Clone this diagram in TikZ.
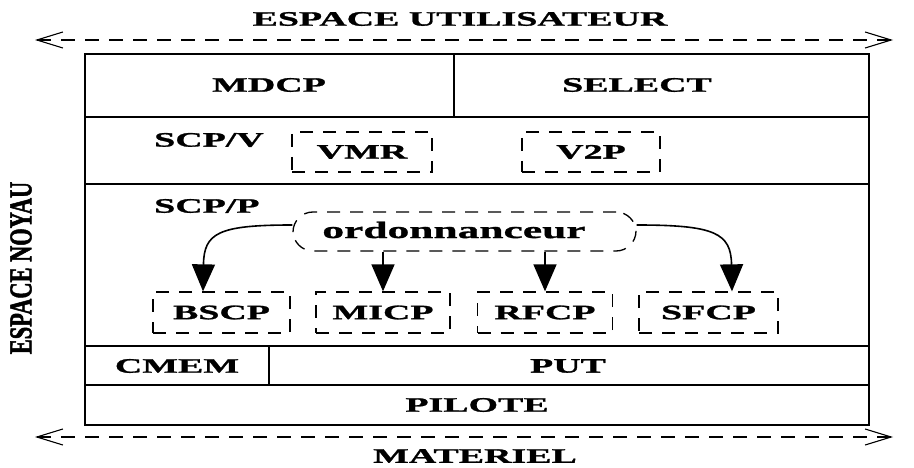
\documentclass[tikz,border=0pt]{standalone}
\usepackage{fontspec}
\setmainfont{Liberation Serif}
\newfontfamily\widefont[FakeStretch=1.85,BoldFeatures={FakeBold=1.3}]{Liberation Serif}
\newfontfamily\narrowfont[FakeStretch=0.7,BoldFeatures={FakeBold=1.5}]{Liberation Serif}
\usetikzlibrary{arrows.meta}
\begin{document}
\begin{tikzpicture}[x=1pt,y=-1pt,
  lab/.style={font=\widefont\bfseries\fontsize{20.5}{20.5}\selectfont, inner sep=0pt},
  solidbox/.style={draw, line width=1.7pt},
  dbox/.style={draw, dashed, line width=1.3pt, dash pattern=on 13pt off 10pt},
  span/.style={dashed, line width=1.2pt, dash pattern=on 14pt off 10pt, {Straight Barb[length=26pt,width=16pt,line width=1.1pt]}-{Straight Barb[length=26pt,width=16pt,line width=1.1pt]}},
  tri/.style={line width=1.6pt, -{Triangle[length=27pt,width=23pt]}}
]
\useasboundingbox (0,0) rectangle (914,468);

% outer rows
\draw[solidbox] (85,54) rectangle (869,425);
\draw[solidbox] (85,117) -- (869,117);
\draw[solidbox] (85,184) -- (869,184);
\draw[solidbox] (85,346) -- (869,346);
\draw[solidbox] (85,385) -- (869,385);
\draw[solidbox] (454,54) -- (454,117);
\draw[solidbox] (269,346) -- (269,385);

% labels in rows
\node[lab] (mdcp) at (269,85) {MDCP};
\node[lab] (select) at (637,85) {SELECT};
\node[lab, anchor=west] (scpv) at (154,140) {SCP/V};
\node[lab, anchor=west] (scpp) at (154,206) {SCP/P};
\node[lab] (cmem) at (177,366) {CMEM};
\node[lab] (put) at (568,366) {PUT};
\node[lab] (pilote) at (477,405) {PILOTE};

% dashed boxes
\node[dbox, minimum width=140pt, minimum height=40pt, inner sep=0pt] (vmr) at (362,152) {};
\node[lab] at (vmr) {VMR};
\node[dbox, minimum width=138pt, minimum height=40pt, inner sep=0pt] (v2p) at (591,152) {};
\node[lab] at (v2p) {V2P};

\node[dbox, rounded corners=20pt, minimum width=343pt, minimum height=39pt, inner sep=0pt] (ord) at (464.5,231.5) {};
\node[lab, font=\widefont\bfseries\fontsize{23.5}{23.5}\selectfont] at (454,230) {ordonnanceur};

\node[dbox, minimum width=137pt, minimum height=41pt, inner sep=0pt] (bscp) at (221.5,312.5) {};
\node[lab] at (bscp) {BSCP};
\node[dbox, minimum width=134pt, minimum height=41pt, inner sep=0pt] (micp) at (383,312.5) {};
\node[lab] at (micp) {MICP};
\node[dbox, minimum width=135pt, minimum height=41pt, inner sep=0pt] (rfcp) at (545,312.5) {};
\node[lab] at (rfcp) {RFCP};
\node[dbox, minimum width=139pt, minimum height=41pt, inner sep=0pt] (sfcp) at (708.5,312.5) {};
\node[lab] at (sfcp) {SFCP};

% arrows from scheduler
\draw[tri] (ord.west |- 0,225) .. controls (218,225) and (204,233) .. (bscp.north -| 203,0);
\draw[tri] (ord.south -| micp.north) -- (micp.north);
\draw[tri] (ord.south -| rfcp.north) -- (rfcp.north);
\draw[tri] (ord.east |- 0,225) .. controls (715,225) and (731,233) .. (sfcp.north -| 732,0);

% spans
\coordinate (tl) at (35,40);
\coordinate (tr) at (893,40);
\coordinate (bl) at (35,437);
\coordinate (br) at (893,437);
\draw[span] (tl) -- (tr);
\draw[span] (bl) -- (br);
\node[lab] (user) at (460,19) {ESPACE UTILISATEUR};
\node[lab] (mat) at (475,456) {MATERIEL};
\node[font=\narrowfont\bfseries\fontsize{32}{32}\selectfont, inner sep=0pt, rotate=90] (noyau) at (21,268) {ESPACE NOYAU};
\end{tikzpicture}
\end{document}
